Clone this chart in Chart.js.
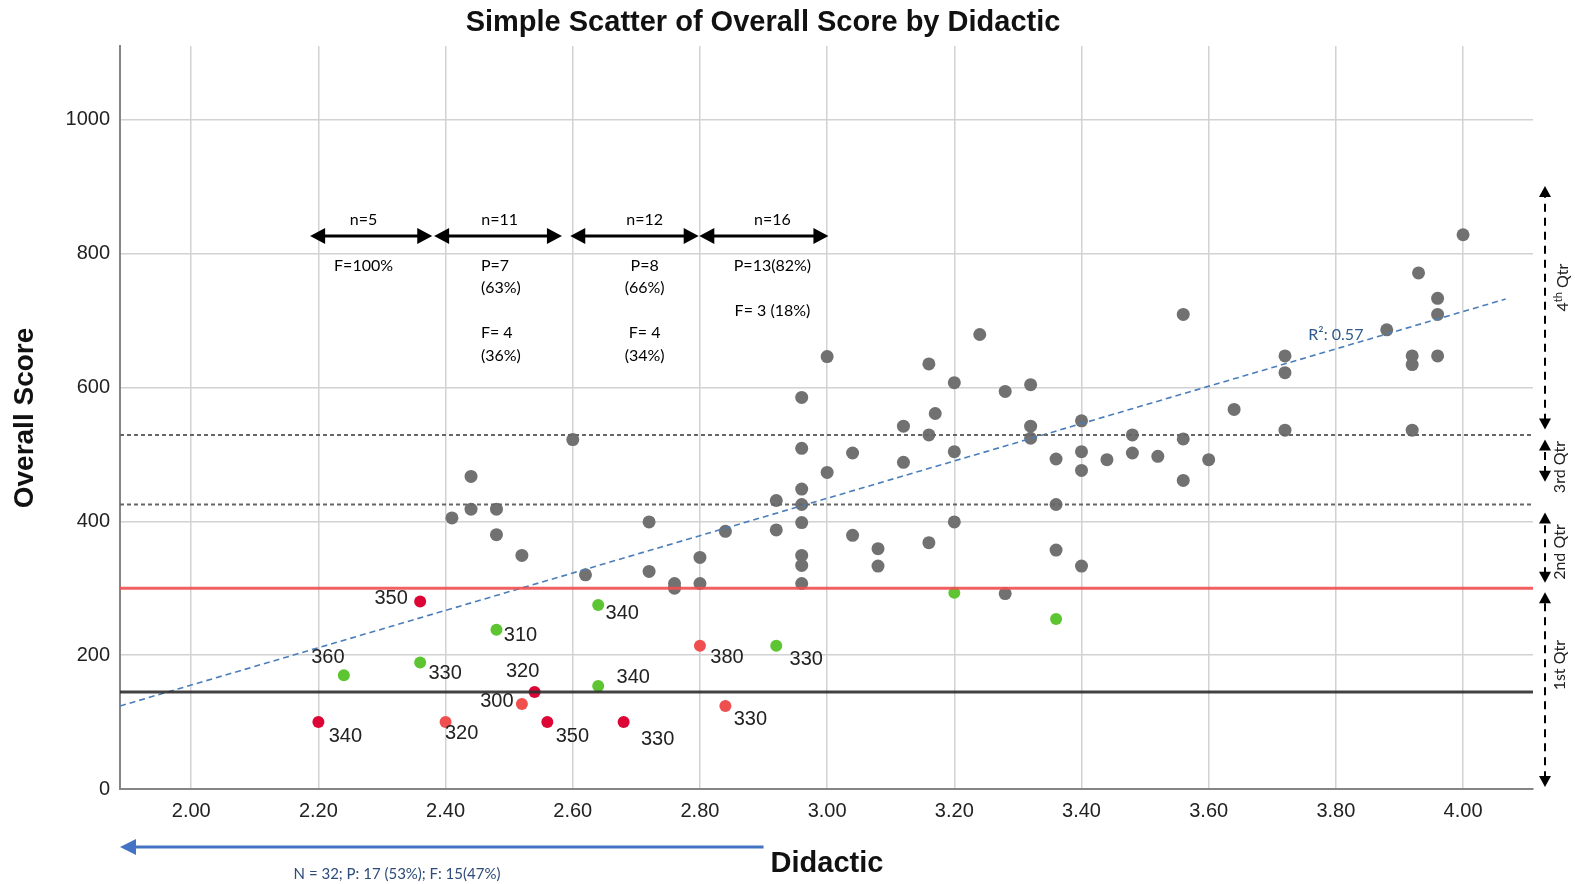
<!DOCTYPE html>
<html>

<head>
    <meta charset="utf-8">
    <title>Simple Scatter of Overall Score by Didactic</title>
    <script src="https://cdn.jsdelivr.net/npm/chart.js@4.4.1/dist/chart.umd.min.js"></script>
    <style>
    html,
    body {
        margin: 0;
        padding: 0;
        background: #fff;
    }
    </style>
</head>

<body>
    <canvas id="chartJSContainer" width="1575" height="884"></canvas>
    <script>
    // axis ticks
    const xTicks = [2.0, 2.2, 2.4, 2.6, 2.8, 3.0, 3.2, 3.4, 3.6, 3.8, 4.0];
    const yTicks = [0, 200, 400, 600, 800, 1000];

    // grey points (Didactic, Overall Score)
    const greyX = [2.41, 2.44, 2.44, 2.48, 2.48, 2.52, 2.60, 2.62, 2.72, 2.72, 2.76, 2.76, 2.80, 2.80, 2.84,
        2.92, 2.92, 2.96, 2.96, 2.96, 2.96, 2.96, 2.96, 2.96, 2.96, 3.00, 3.00, 3.04, 3.04, 3.08, 3.08,
        3.12, 3.12, 3.16, 3.16, 3.16, 3.17, 3.20, 3.20, 3.20, 3.24, 3.28, 3.28, 3.32, 3.32, 3.32,
        3.36, 3.36, 3.36, 3.40, 3.40, 3.40, 3.40, 3.44, 3.48, 3.48, 3.52, 3.56, 3.56, 3.56, 3.60, 3.64,
        3.72, 3.72, 3.72, 3.88, 3.92, 3.92, 3.92, 3.93, 3.96, 3.96, 3.96, 4.00];
    const greyY = [405, 467, 418, 418, 380, 349, 522, 320, 399, 325, 307, 300, 346, 307, 385,
        431, 387, 585, 509, 448, 425, 398, 349, 334, 307, 646, 473, 502, 379, 359, 333,
        542, 488, 635, 529, 368, 561, 607, 504, 399, 679, 594, 292, 604, 542, 524,
        493, 425, 357, 550, 504, 476, 333, 492, 529, 502, 497, 709, 523, 461, 492, 567,
        647, 622, 536, 686, 647, 634, 536, 771, 733, 709, 647, 828];

    // green points
    const passX = [2.24, 2.36, 2.48, 2.64, 2.64, 2.92, 3.20, 3.36];
    const passY = [170, 189, 238, 275, 154, 214, 293, 254];
    const passLabels = ['360', '330', '310', '340', '340', '330', '', ''];

    // crimson points
    const failX = [2.20, 2.36, 2.54, 2.56, 2.68];
    const failY = [100, 280, 145, 100, 100];
    const failLabels = ['340', '350', '320', '350', '330'];

    // light red points
    const nearX = [2.40, 2.52, 2.80, 2.84];
    const nearY = [100, 127, 214, 124];
    const nearLabels = ['320', '300', '380', '330'];

    // fit line and reference levels
    const trendX = [1.888, 4.067];
    const trendY = [124, 732];
    const passMark = 300;
    const minScore = 145;
    const quartileCuts = [425, 529];

    // group notes above the points
    const groupEdges = [[2.187, 2.379], [2.382, 2.583], [2.596, 2.798], [2.799, 3.002]];
    const groupN = ['n=5', 'n=11', 'n=12', 'n=16'];
    const groupNotes = [
        ['F=100%'],
        ['P=7', '(63%)', '', 'F= 4', '(36%)'],
        ['P=8', '(66%)', '', 'F= 4', '(34%)'],
        ['P=13(82%)', '', 'F= 3 (18%)']
    ];
    const groupTextX = [2.271, 2.4555, 2.713, 2.914];
    const groupNX = [2.271, 2.485, 2.713, 2.914];

    // quartile brackets on the right
    const qtrRanges = [[3, 294], [308, 413], [459, 522], [537, 901]];
    const qtrLabelY = [185, 354, 481, 749];

    const noteText = 'N = 32; P: 17 (53%); F: 15(47%)';
    const r2Text = 'R\u00b2: 0.57';

    // label offsets in px from the point centre (style only)
    const passOff = [[-16, -18], [25, 11], [24, 6], [24, 9], [35, -8], [30, 14], [0, 0], [0, 0]];
    const failOff = [[27, 14], [-29, -3], [-12, -20], [25, 14], [34, 17]];
    const nearOff = [[16, 11], [-25, -3], [27, 12], [25, 13]];

    const pts = (xs, ys) => xs.map((v, i) => ({ x: v, y: ys[i] }));

    function head(ctx, x, y, ang, len, half) {
        ctx.beginPath();
        ctx.moveTo(x, y);
        ctx.lineTo(x - len * Math.cos(ang) + half * Math.sin(ang), y - len * Math.sin(ang) - half * Math.cos(ang));
        ctx.lineTo(x - len * Math.cos(ang) - half * Math.sin(ang), y - len * Math.sin(ang) + half * Math.cos(ang));
        ctx.closePath();
        ctx.fill();
    }

    function arrow(ctx, x1, y1, x2, y2, o) {
        const ang = Math.atan2(y2 - y1, x2 - x1);
        const c = Math.cos(ang), s = Math.sin(ang);
        ctx.save();
        ctx.strokeStyle = ctx.fillStyle = o.color;
        ctx.lineWidth = o.width;
        ctx.setLineDash(o.dash || []);
        const a = o.start ? o.len * 0.7 : 0, b = o.end ? o.len * 0.7 : 0;
        ctx.beginPath();
        ctx.moveTo(x1 + a * c, y1 + a * s);
        ctx.lineTo(x2 - b * c, y2 - b * s);
        ctx.stroke();
        ctx.setLineDash([]);
        if (o.start) head(ctx, x1, y1, ang + Math.PI, o.len, o.half);
        if (o.end) head(ctx, x2, y2, ang, o.len, o.half);
        ctx.restore();
    }

    const annotate = {
        id: 'annotate',
        afterDatasetsDraw(chart) {
            const { ctx, chartArea: area, scales: { x, y } } = chart;
            ctx.save();

            // reference lines
            const hline = (v, color, w, dash) => {
                ctx.save();
                ctx.strokeStyle = color;
                ctx.lineWidth = w;
                ctx.setLineDash(dash);
                ctx.beginPath();
                ctx.moveTo(area.left, y.getPixelForValue(v));
                ctx.lineTo(area.right, y.getPixelForValue(v));
                ctx.stroke();
                ctx.restore();
            };
            quartileCuts.forEach(v => hline(v, '#666', 2, [4, 3]));
            hline(passMark, 'rgba(240,80,80,0.9)', 3, []);
            hline(minScore, 'rgba(45,45,45,0.9)', 3, []);

            // point labels
            ctx.font = '20px "Liberation Sans", Arial, sans-serif';
            ctx.fillStyle = '#222';
            ctx.textAlign = 'center';
            ctx.textBaseline = 'middle';
            const lab = (xs, ys, labels, off) => labels.forEach((t, i) => {
                if (!t) return;
                ctx.fillText(t, x.getPixelForValue(xs[i]) + off[i][0], y.getPixelForValue(ys[i]) + off[i][1]);
            });
            lab(passX, passY, passLabels, passOff);
            lab(failX, failY, failLabels, failOff);
            lab(nearX, nearY, nearLabels, nearOff);

            // group arrows and notes
            ctx.font = '16px Lato, sans-serif';
            ctx.fillStyle = '#000';
            groupEdges.forEach((e, i) => {
                arrow(ctx, x.getPixelForValue(e[0]), y.getPixelForValue(826), x.getPixelForValue(e[1]), y.getPixelForValue(826),
                    { color: '#000', width: 3, len: 15, half: 8, start: true, end: true });
                ctx.textAlign = 'center';
                ctx.fillText(groupN[i], x.getPixelForValue(groupNX[i]), y.getPixelForValue(850));
                const tx = x.getPixelForValue(groupTextX[i]);
                ctx.textAlign = i === 1 ? 'left' : 'center';
                groupNotes[i].forEach((t, k) => {
                    ctx.fillText(t, tx, y.getPixelForValue(782) + k * 22.5);
                });
            });

            // R squared
            ctx.fillStyle = '#2f5b8c';
            ctx.textAlign = 'center';
            ctx.fillText(r2Text, x.getPixelForValue(3.80), y.getPixelForValue(679));

            // quartile brackets
            const qx = area.right + 12;
            qtrRanges.forEach(r => {
                arrow(ctx, qx, y.getPixelForValue(r[0]), qx, y.getPixelForValue(r[1]),
                    { color: '#000', width: 2, dash: [8, 6], len: 11, half: 6, start: true, end: true });
            });
            ctx.fillStyle = '#222';
            ctx.font = '16px Lato, sans-serif';
            ['1st Qtr', '2nd Qtr', '3rd Qtr'].forEach((t, i) => {
                ctx.save();
                ctx.translate(area.right + 27, y.getPixelForValue(qtrLabelY[i]));
                ctx.rotate(-Math.PI / 2);
                ctx.textAlign = 'center';
                ctx.fillText(t, 0, 0);
                ctx.restore();
            });
            ctx.save();
            ctx.translate(area.right + 30, y.getPixelForValue(qtrLabelY[3]));
            ctx.rotate(-Math.PI / 2);
            ctx.textAlign = 'left';
            const w1 = ctx.measureText('4').width, w3 = ctx.measureText(' Qtr').width;
            ctx.font = '11px Lato, sans-serif';
            const w2 = ctx.measureText('th').width;
            let sx = -(w1 + w2 + w3) / 2;
            ctx.font = '16px Lato, sans-serif';
            ctx.fillText('4', sx, 0);
            ctx.font = '11px Lato, sans-serif';
            ctx.fillText('th', sx + w1, -5);
            ctx.font = '16px Lato, sans-serif';
            ctx.fillText(' Qtr', sx + w1 + w2, 0);
            ctx.restore();

            // bottom arrow and note
            const by = area.bottom + 58;
            arrow(ctx, x.getPixelForValue(1.888), by, x.getPixelForValue(2.90), by,
                { color: '#4472c4', width: 3, len: 16, half: 8, start: true, end: false });
            ctx.fillStyle = '#2e4b7a';
            ctx.font = '15px Lato, sans-serif';
            ctx.textAlign = 'center';
            ctx.fillText(noteText, 397, by + 27);

            // titles
            ctx.fillStyle = '#111';
            ctx.font = 'bold 29px "Liberation Sans", Arial, sans-serif';
            ctx.fillText('Simple Scatter of Overall Score by Didactic', 763, 23);
            ctx.fillText('Didactic', 827, 864);
            ctx.save();
            ctx.translate(25, 418);
            ctx.rotate(-Math.PI / 2);
            ctx.font = 'bold 28px "Liberation Sans", Arial, sans-serif';
            ctx.fillText('Overall Score', 0, 0);
            ctx.restore();

            ctx.restore();
        }
    };

    Chart.defaults.font.family = '"Liberation Sans", Arial, sans-serif';

    var options = {
        type: 'scatter',
        data: {
            datasets: [{
                label: 'Fit',
                data: pts(trendX, trendY),
                showLine: true,
                borderColor: '#4a7ebb',
                borderWidth: 1.6,
                borderDash: [6, 4],
                pointRadius: 0,
                order: 0
            }, {
                label: 'Other',
                data: pts(greyX, greyY),
                backgroundColor: '#717171',
                pointRadius: 6.5,
                borderWidth: 0,
                order: 3
            }, {
                label: 'Pass',
                data: pts(passX, passY),
                backgroundColor: '#5cc531',
                pointRadius: 6,
                borderWidth: 0,
                order: 2
            }, {
                label: 'Fail',
                data: pts(failX, failY),
                backgroundColor: '#dc0535',
                pointRadius: 6,
                borderWidth: 0,
                order: 2
            }, {
                label: 'Near',
                data: pts(nearX, nearY),
                backgroundColor: '#ef4f4f',
                pointRadius: 6,
                borderWidth: 0,
                order: 2
            }]
        },
        options: {
            responsive: false,
            animation: false,
            devicePixelRatio: 1,
            layout: { padding: { top: 46, right: 42, left: 0, bottom: 0 } },
            plugins: {
                legend: { display: false },
                tooltip: { enabled: false }
            },
            scales: {
                x: {
                    type: 'linear',
                    min: 1.888,
                    max: 4.11,
                    afterBuildTicks: s => { s.ticks = xTicks.map(v => ({ value: v })); },
                    afterFit: s => { s.height = 95; },
                    grid: { color: '#d2d2d2', lineWidth: 1.5, drawTicks: false },
                    border: { color: '#858585', width: 2 },
                    ticks: { padding: 10, color: '#222', font: { size: 20 }, callback: v => Number(v).toFixed(2) }
                },
                y: {
                    min: 0,
                    max: 1110,
                    afterBuildTicks: s => { s.ticks = yTicks.map(v => ({ value: v })); },
                    afterFit: s => { s.width = 120; },
                    grid: { color: '#d2d2d2', lineWidth: 1.5, drawTicks: false },
                    border: { color: '#858585', width: 2 },
                    ticks: { padding: 10, color: '#222', font: { size: 20 }, callback: v => String(v) }
                }
            }
        },
        plugins: [annotate]
    };

    var ctx = document.getElementById('chartJSContainer').getContext('2d');
    window.chart = new Chart(ctx, options);
    </script>
</body>

</html>
